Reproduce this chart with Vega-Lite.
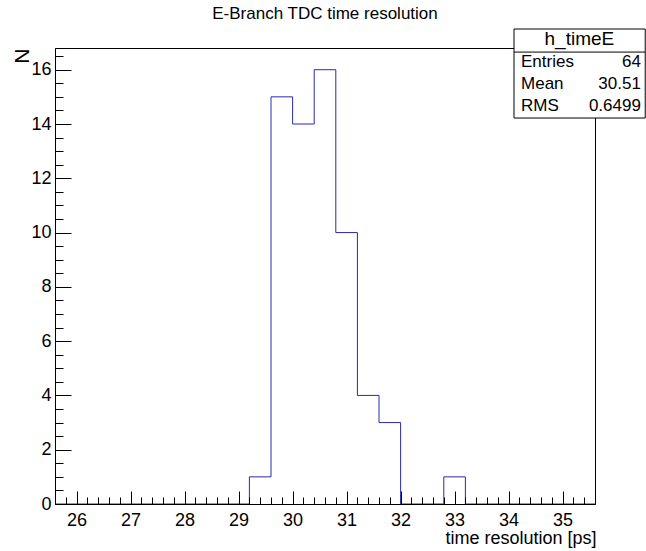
{
  "$schema": "https://vega.github.io/schema/vega-lite/v6.json",
  "width": 540,
  "height": 456,
  "autosize": {"type": "none"},
  "padding": {"left": 55, "top": 48, "right": 51, "bottom": 47},
  "background": "white",
  "config": {"view": {"stroke": "black", "strokeWidth": 1}, "font": "Liberation Sans"},
  "title": {"text": "E-Branch TDC time resolution", "fontSize": 17, "fontWeight": "normal", "font": "Liberation Sans", "color": "black", "anchor": "middle", "frame": "group", "baseline": "alphabetic", "offset": 11, "dy": 18},
  "datasets": {
    "hist": [
      {"bin_start": 25.6, "entries": 0}, {"bin_start": 26.0, "entries": 0}, {"bin_start": 26.4, "entries": 0},
      {"bin_start": 26.8, "entries": 0}, {"bin_start": 27.2, "entries": 0}, {"bin_start": 27.6, "entries": 0},
      {"bin_start": 28.0, "entries": 0}, {"bin_start": 28.4, "entries": 0}, {"bin_start": 28.8, "entries": 0},
      {"bin_start": 29.2, "entries": 1}, {"bin_start": 29.6, "entries": 15}, {"bin_start": 30.0, "entries": 14},
      {"bin_start": 30.4, "entries": 16}, {"bin_start": 30.8, "entries": 10}, {"bin_start": 31.2, "entries": 4},
      {"bin_start": 31.6, "entries": 3}, {"bin_start": 32.0, "entries": 0}, {"bin_start": 32.4, "entries": 0},
      {"bin_start": 32.8, "entries": 1}, {"bin_start": 33.2, "entries": 0}, {"bin_start": 33.6, "entries": 0},
      {"bin_start": 34.0, "entries": 0}, {"bin_start": 34.4, "entries": 0}, {"bin_start": 34.8, "entries": 0},
      {"bin_start": 35.2, "entries": 0}, {"bin_start": 35.6, "entries": 0}
    ]
  },
  "layer": [
    {
      "data": {"name": "hist"},
      "mark": {"type": "line", "interpolate": "step-after", "color": "#2a2aad", "strokeWidth": 1, "clip": true},
      "encoding": {
        "x": {
          "field": "bin_start", "type": "quantitative",
          "scale": {"domain": [25.6, 35.6], "nice": false, "zero": false},
          "axis": {
            "values": [25.8, 26, 26.2, 26.4, 26.6, 26.8, 27, 27.2, 27.4, 27.6, 27.8, 28, 28.2, 28.4, 28.6, 28.8, 29, 29.2, 29.4, 29.6, 29.8, 30, 30.2, 30.4, 30.6, 30.8, 31, 31.2, 31.4, 31.6, 31.8, 32, 32.2, 32.4, 32.6, 32.8, 33, 33.2, 33.4, 33.6, 33.8, 34, 34.2, 34.4, 34.6, 34.8, 35, 35.2, 35.4],
            "tickCount": 200,
            "labelExpr": "abs(datum.value - round(datum.value)) < 0.01 ? format(datum.value, 'd') : ''",
            "tickSize": {"condition": {"test": "abs(datum.value - round(datum.value)) < 0.01", "value": -13}, "value": -7},
            "tickColor": "black", "tickWidth": 1,
            "domainColor": "black",
            "labelColor": "black", "labelFontSize": 18, "labelFont": "Liberation Sans",
            "labelBaseline": "alphabetic", "labelPadding": 34,
            "labelFlush": false, "labelOverlap": false, "grid": false,
            "title": "time resolution [ps]", "titleFontSize": 18, "titleFontWeight": "normal", "titleColor": "black", "titleFont": "Liberation Sans",
            "titleAnchor": "end", "titleAlign": "right", "titleBaseline": "alphabetic", "titleX": 541, "titleY": 39,
            "zindex": 1
          }
        },
        "y": {
          "field": "entries", "type": "quantitative",
          "scale": {"domain": [0, 16.8], "nice": false},
          "axis": {
            "values": [0, 0.5, 1, 1.5, 2, 2.5, 3, 3.5, 4, 4.5, 5, 5.5, 6, 6.5, 7, 7.5, 8, 8.5, 9, 9.5, 10, 10.5, 11, 11.5, 12, 12.5, 13, 13.5, 14, 14.5, 15, 15.5, 16, 16.5],
            "tickCount": 200,
            "labelExpr": "datum.value % 2 === 0 ? format(datum.value, 'd') : ''",
            "tickSize": {"condition": {"test": "datum.value % 2 === 0", "value": -16}, "value": -8},
            "tickColor": "black", "tickWidth": 1,
            "domainColor": "black",
            "labelColor": "black", "labelFontSize": 18, "labelFont": "Liberation Sans",
            "labelPadding": 20, "labelFlush": false, "labelOverlap": false, "grid": false,
            "title": "N", "titleFontSize": 21, "titleFontWeight": "normal", "titleColor": "black", "titleFont": "Liberation Sans",
            "titleAngle": 270, "titleAlign": "right", "titleBaseline": "alphabetic", "titleX": -27, "titleY": 0,
            "zindex": 1
          }
        }
      }
    },
    {
      "data": {"values": [{}]},
      "mark": {"type": "rect", "fill": "white", "stroke": "black", "strokeWidth": 1, "clip": false},
      "encoding": {
        "x": {"datum": 34.1, "type": "quantitative"},
        "x2": {"datum": 36.53},
        "y": {"datum": 17.5, "type": "quantitative"},
        "y2": {"datum": 14.22}
      }
    },
    {
      "data": {"values": [{}]},
      "mark": {"type": "rule", "color": "black", "strokeWidth": 1, "clip": false},
      "encoding": {
        "x": {"datum": 34.1, "type": "quantitative"},
        "x2": {"datum": 36.53},
        "y": {"datum": 16.65, "type": "quantitative"}
      }
    },
    {
      "data": {"values": [{}]},
      "mark": {"type": "text", "align": "center", "baseline": "alphabetic", "fontSize": 19, "font": "Liberation Sans", "color": "black", "clip": false},
      "encoding": {
        "x": {"datum": 35.31, "type": "quantitative"},
        "y": {"datum": 16.91, "type": "quantitative"},
        "text": {"value": "h_timeE"}
      }
    },
    {
      "data": {"values": [{}]},
      "mark": {"type": "text", "align": "left", "baseline": "alphabetic", "fontSize": 17, "lineHeight": 22, "font": "Liberation Sans", "color": "black", "clip": false},
      "encoding": {
        "x": {"datum": 34.23, "type": "quantitative"},
        "y": {"datum": 16.1, "type": "quantitative"},
        "text": {"value": ["Entries", "Mean", "RMS"]}
      }
    },
    {
      "data": {"values": [{}]},
      "mark": {"type": "text", "align": "right", "baseline": "alphabetic", "fontSize": 17, "lineHeight": 22, "font": "Liberation Sans", "color": "black", "clip": false},
      "encoding": {
        "x": {"datum": 36.45, "type": "quantitative"},
        "y": {"datum": 16.1, "type": "quantitative"},
        "text": {"value": ["64", "30.51", "0.6499"]}
      }
    }
  ]
}
